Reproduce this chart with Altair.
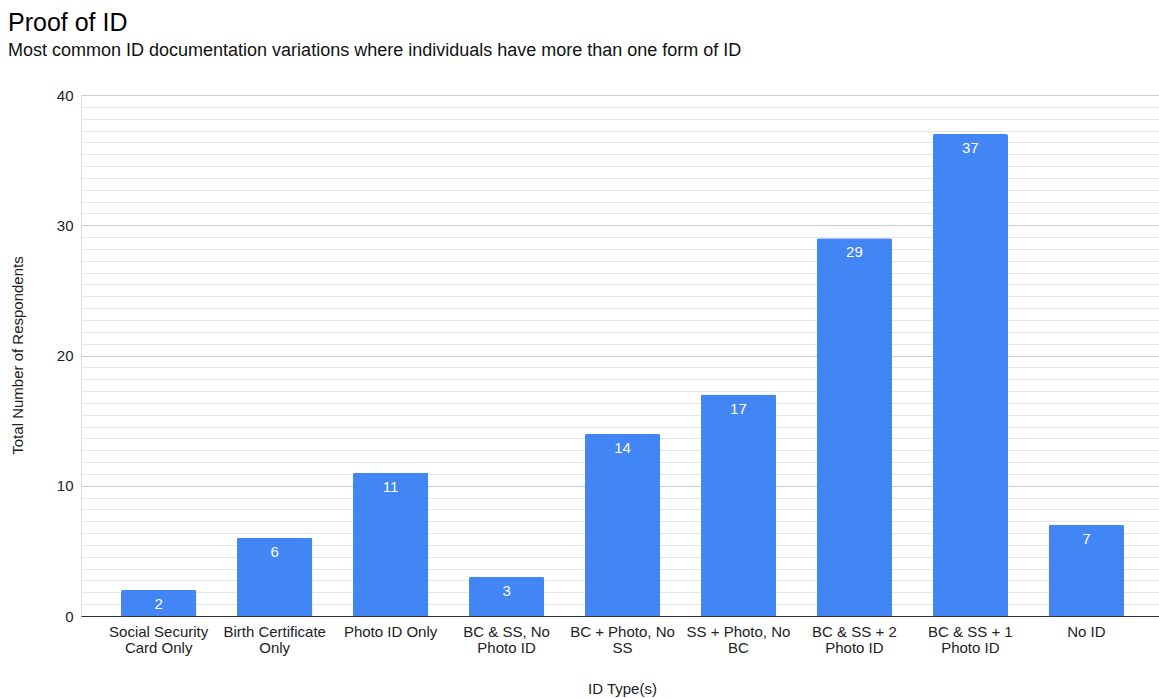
import altair as alt
import pandas as pd

# ID combinations held by respondents and how many reported each
id_types = [
    "Social Security\nCard Only",
    "Birth Certificate\nOnly",
    "Photo ID Only",
    "BC & SS, No\nPhoto ID",
    "BC + Photo, No\nSS",
    "SS + Photo, No\nBC",
    "BC & SS + 2\nPhoto ID",
    "BC & SS + 1\nPhoto ID",
    "No ID",
]
respondents = [2, 6, 11, 3, 14, 17, 29, 37, 7]

major_ticks = [0, 10, 20, 30, 40]

df = pd.DataFrame({"id_type": id_types, "respondents": respondents})

FONT = "Liberation Sans"
BLUE = "#4285F4"
TEXT = "#222222"
LEFT, TOP = 81, 95
PLOT_W, PLOT_H = 1078, 521
BAND_SPAN = 1083  # band layout runs slightly past the right edge of the plot

# faint minor gridlines: 11 subdivisions between each labelled tick
minor_ticks = [i * 40 / 44 for i in range(45) if i % 11 != 0]

y_scale = alt.Scale(domain=[0, 40], nice=False, zero=True)
x_scale = alt.Scale(paddingInner=0.35, paddingOuter=0.345, range=[0, BAND_SPAN])

x_enc = alt.X(
    "id_type:N",
    sort=id_types,
    scale=x_scale,
    axis=alt.Axis(
        title="ID Type(s)",
        labelAngle=0,
        labelExpr="split(datum.value, '\\n')",
        labelFont=FONT,
        labelFontSize=15,
        labelColor=TEXT,
        labelLineHeight=16,
        labelPadding=8,
        labelBaseline="top",
        ticks=False,
        domainColor="#333333",
        domainWidth=1,
        titleFont=FONT,
        titleFontSize=15,
        titleFontWeight="normal",
        titleColor=TEXT,
        titleY=72,
        titleX=541,
        titleBaseline="middle",
        grid=False,
    ),
)

minor = alt.Chart(df).mark_rule(opacity=0).encode(
    y=alt.Y(
        "respondents:Q",
        scale=y_scale,
        axis=alt.Axis(
            orient="left",
            values=minor_ticks,
            grid=True,
            gridColor="#e8e8e8",
            gridWidth=1,
            labels=False,
            ticks=False,
            domain=False,
            title=None,
        ),
    )
)

bars = alt.Chart(df).mark_bar(
    color=BLUE, cornerRadiusTopLeft=2, cornerRadiusTopRight=2
).encode(
    x=x_enc,
    y=alt.Y(
        "respondents:Q",
        scale=y_scale,
        axis=alt.Axis(
            orient="left",
            values=major_ticks,
            grid=True,
            gridColor="#cccccc",
            gridWidth=1,
            ticks=False,
            domain=False,
            labelFont=FONT,
            labelFontSize=15,
            labelColor=TEXT,
            labelPadding=8,
            title="Total Number of Respondents",
            titleFont=FONT,
            titleFontSize=15,
            titleFontWeight="normal",
            titleColor=TEXT,
            titleX=-64,
            titleY=260,
            titleAngle=-90,
            titleBaseline="middle",
            titleAlign="center",
        ),
    ),
)

labels = alt.Chart(df).mark_text(
    color="white", font=FONT, fontSize=15, baseline="middle", dy=14
).encode(
    x=alt.X("id_type:N", sort=id_types, scale=x_scale),
    y=alt.Y("respondents:Q", scale=y_scale, axis=None),
    text="respondents:Q",
)

chart = (
    alt.layer(minor, bars, labels)
    .resolve_axis(y="independent")
    .resolve_scale(y="shared")
    .properties(
        width=PLOT_W,
        height=PLOT_H,
        autosize=alt.AutoSizeParams(type="none"),
        padding={"left": LEFT, "top": TOP, "right": 0, "bottom": 82},
        title=alt.TitleParams(
            "Proof of ID",
            subtitle="Most common ID documentation variations where individuals have more than one form of ID",
            anchor="start",
            frame="group",
            font=FONT,
            fontSize=25,
            fontWeight="normal",
            color="#000000",
            subtitleFont=FONT,
            subtitleFontSize=18,
            subtitleColor="#111111",
            subtitlePadding=6,
            offset=28,
            dx=-73,
        ),
    )
    .configure_view(stroke=None)
    .configure(background="white")
)

chart.save("out.html", embed_options={"renderer": "svg", "actions": False})
